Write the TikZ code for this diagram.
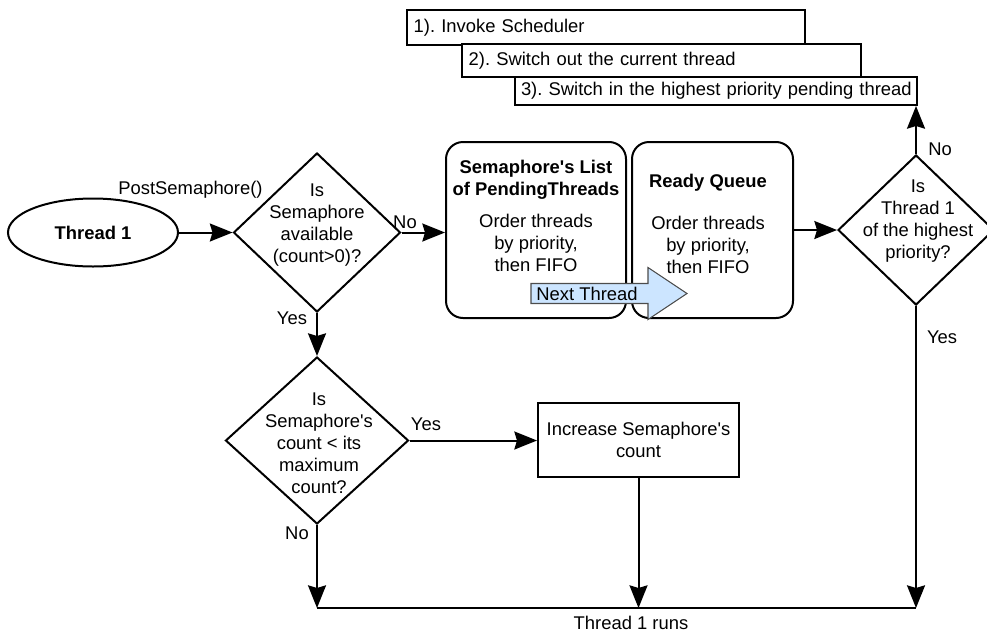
\documentclass[tikz,border=0pt]{standalone}
\usepackage{fontspec}
\setmainfont{Liberation Sans}
\usetikzlibrary{arrows.meta,shapes.geometric}
\definecolor{ntblue}{RGB}{204,229,255}
\newcommand{\apos}{\textquotesingle}
\frenchspacing
\begin{document}
\begin{tikzpicture}[x=0.75pt,y=-0.75pt,
  font=\fontsize{13.8}{16.5}\selectfont,
  line width=1.5pt,
  arr/.style={-{Stealth[length=17pt,width=13.5pt,inset=2pt]}},
  dia/.style={diamond,draw,inner sep=0pt},
  rbox/.style={draw,rounded corners=12.75pt,inner sep=0pt,minimum height=132pt},
  sbox/.style={draw,fill=white,align=left,inner xsep=5pt,inner ysep=0pt},
  lbl/.style={inner sep=0pt},
  txt/.style={align=center,inner sep=0pt}
]
\useasboundingbox (0,0) rectangle (987,632);

% stacked scheduler boxes
\node[sbox,text width=288.5pt,minimum height=26.25pt] (A) at (606,27.5) {\mbox{1). Invoke Scheduler}};
\node[sbox,text width=289.25pt,minimum height=24.75pt] (B) at (661.5,60.5) {\mbox{2). Switch out the current thread}};
\node[sbox,text width=292.5pt,inner xsep=4.5pt,minimum height=21pt] (C) at (716,91) {\mbox{3). Switch in the highest priority pending thread}};

% start ellipse
\node[draw,ellipse,minimum width=127.5pt,minimum height=51pt,inner sep=0pt,font=\fontsize{13.8}{16.5}\selectfont\bfseries] (t1) at (93,232.5) {Thread 1};

% diamonds
\node[dia,minimum width=125.25pt,minimum height=119.25pt] (d1) at (317,232.5) {};
\node[txt] (d1t) at (317,225) {Is\\Semaphore\\available\\(count>0)?};
\node[dia,minimum width=137.25pt,minimum height=125.25pt] (d2) at (317,440.5) {};
\node[txt] (d2t) at (319,443) {Is\\Semaphore\apos s\\count < its\\maximum\\count?};
\node[dia,minimum width=117pt,minimum height=112.5pt] (d3) at (916,230) {};
\node[txt] (d3t) at (918,221.5) {Is\\Thread 1\\of the highest\\priority?};

% queues
\node[rbox,minimum width=135pt] (box1) at (536,230) {};
\node[rbox,minimum width=120.75pt] (box2) at (712.5,230) {};
\node[txt] (b1t) at (536,215.5) {\textbf{Semaphore\apos s List}\\\textbf{of PendingThreads}\\[7.5pt]Order threads\\by priority,\\then FIFO};
\node[txt] (b2t) at (708,223.5) {\textbf{Ready Queue}\\[15pt]Order threads\\by priority,\\then FIFO};

% next thread arrow
\draw[fill=ntblue,draw=black!70,line width=0.8pt]
  (531,283.5) -- (648,283.5) -- (648,267.5) -- (687,293.5) -- (648,319.5) -- (648,303.5) -- (531,303.5) -- cycle;
\node[lbl] (nt) at (587,293.5) {Next Thread};

% increase box
\node[draw,align=center,inner sep=0pt,minimum width=150.75pt,minimum height=55.5pt] (box4) at (638.5,440) {Increase Semaphore\apos s\\count};

% connectors
\coordinate (bl) at (317,608);
\coordinate (br) at (916,608);
\draw[arr] (t1.east) -- (d1.west);
\draw[arr] (d1.east) -- (d1.east -| box1.west);
\draw[arr] (box2.east) -- (d3.west);
\draw[arr] (d3.north) -- (d3.north |- C.south);
\draw[arr] (d1.south) -- (d2.north);
\draw[arr] (d2.east) -- (d2.east -| box4.west);
\draw[arr] (d2.south) -- (bl);
\draw[arr] (box4.south) -- (box4.south |- bl);
\draw[arr] (d3.south) -- (br);
\draw (bl) -- (br);

% labels
\node[lbl] (lpost) at (190.5,190) {PostSemaphore()};
\node[lbl] (lno1) at (405,222) {No};
\node[lbl] (lyes1) at (292,318) {Yes};
\node[lbl] (lno3) at (940,149) {No};
\node[lbl] (lyes3) at (942,337) {Yes};
\node[lbl] (lyes2) at (426,424) {Yes};
\node[lbl] (lno2) at (297,533) {No};
\node[lbl] (lrun) at (631,623) {Thread 1 runs};
\end{tikzpicture}
\end{document}
